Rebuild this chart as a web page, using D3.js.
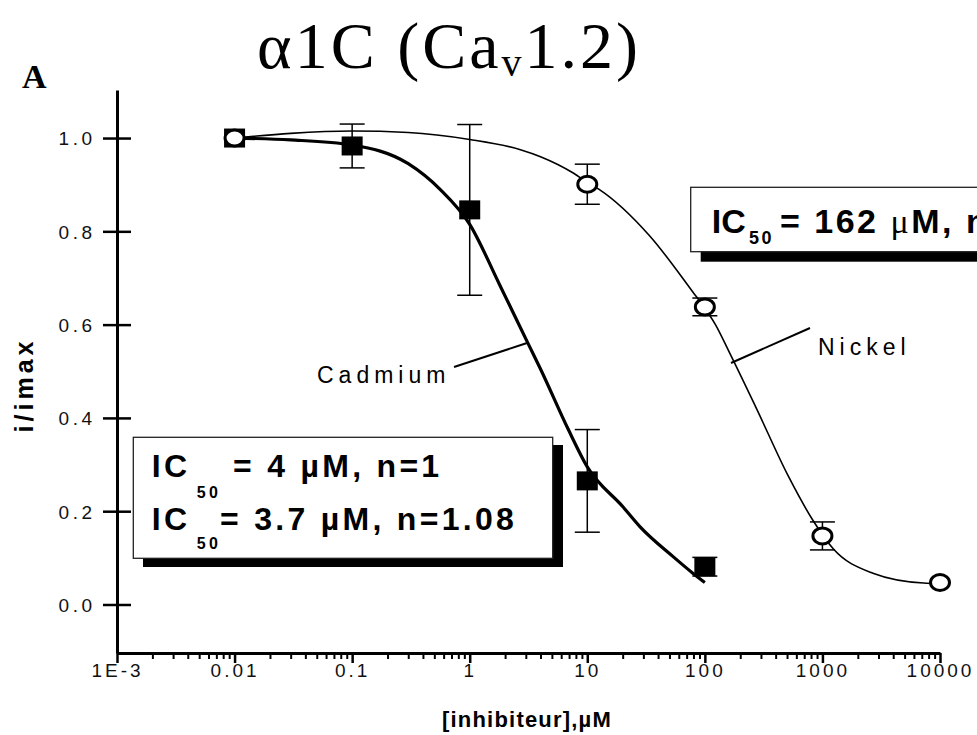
<!DOCTYPE html>
<html><head><meta charset="utf-8">
<script src="https://cdn.jsdelivr.net/npm/d3@7"></script>
<style>
body{margin:0;background:#fff;}
svg{display:block;}
</style></head><body>
<svg id="chart" width="977" height="735"></svg>
<script>
// ---- data ----
const xTickValues = [0.001, 0.01, 0.1, 1, 10, 100, 1000, 10000];
const xTickLabels = ["1E-3", "0.01", "0.1", "1", "10", "100", "1000", "10000"];
const yTickValues = [0, 0.2, 0.4, 0.6, 0.8, 1.0];
const yTickLabels = ["0.0", "0.2", "0.4", "0.6", "0.8", "1.0"];

// Cadmium (filled squares)
const cdConc = [0.01, 0.1, 1, 10, 100];
const cdMean = [1.0, 0.983, 0.846, 0.265, 0.081];
const cdErr  = [0, 0.047, 0.183, 0.11, 0.02];

// Nickel (open circles)
const niConc = [0.01, 10, 100, 1000, 10000];
const niMean = [1.0, 0.901, 0.638, 0.147, 0.047];
const niErr  = [0, 0.043, 0.019, 0.03, 0];

// fitted curves
const cdFitConc = [0.01, 0.03, 0.1, 0.3, 0.56, 1, 1.8, 3.2, 4, 6.9, 10, 20, 28, 54, 79, 100];
const cdFitVal  = [1.0, 0.996, 0.985, 0.945, 0.89, 0.815, 0.685, 0.555, 0.505, 0.375, 0.295, 0.21, 0.167, 0.102, 0.067, 0.047];
const niFitConc = [0.01, 0.03, 0.1, 0.3, 1, 2.7, 4, 7.6, 10, 12.6, 34, 79, 100, 123, 162, 275, 513, 832, 1230, 2690, 7240, 10000];
const niFitVal  = [1.0, 1.01, 1.015, 1.012, 0.997, 0.975, 0.96, 0.925, 0.905, 0.89, 0.79, 0.67, 0.635, 0.6, 0.54, 0.42, 0.275, 0.18, 0.12, 0.067, 0.046, 0.045];

// ---- drawing ----
const SANS = "'Liberation Sans', Arial, Helvetica, sans-serif";
const SERIF = "'Liberation Serif', 'Times New Roman', serif";
const svg = d3.select("#chart");

const x = d3.scaleLog().domain([1e-3, 1e4]).range([117, 940]);
const y = d3.scaleLinear().domain([-0.104, 1.103]).range([653, 90]);

// title
const title = svg.append("text").attr("x", 449).attr("y", 68)
  .attr("text-anchor", "middle").attr("font-family", SERIF).attr("font-size", 66)
  .attr("letter-spacing", 3);
title.append("tspan").text("α1C (Ca");
title.append("tspan").attr("font-size", 40).attr("dy", 8).text("v");
title.append("tspan").attr("dy", -8).text("1.2)");

svg.append("text").attr("x", 22).attr("y", 88).attr("font-family", SERIF)
  .attr("font-weight", "bold").attr("font-size", 34).text("A");

// Y axis
const gy = svg.append("g").attr("transform", "translate(117,0)")
  .call(d3.axisLeft(y).tickValues(yTickValues)
    .tickFormat((d, i) => yTickLabels[i]).tickSize(14).tickSizeOuter(0));
gy.select(".domain").attr("stroke-width", 3);
gy.selectAll(".tick line").attr("x1", 14).attr("stroke-width", 2.5);
gy.selectAll(".tick text").attr("x", -21.5).attr("dy", "0.36em")
  .attr("font-family", SANS).attr("font-size", 19).attr("letter-spacing", 3.5).attr("fill", "#111");

// X axis minor ticks
const minor = x.ticks().filter(v => Math.abs(Math.log10(v) - Math.round(Math.log10(v))) > 1e-6);
const gxm = svg.append("g").attr("transform", "translate(0,653)")
  .call(d3.axisBottom(x).tickValues(minor).tickFormat("").tickSize(6).tickSizeOuter(0));
gxm.select(".domain").remove();
gxm.selectAll(".tick line").attr("stroke-width", 2);

// X axis major
const gx = svg.append("g").attr("transform", "translate(0,653)")
  .call(d3.axisBottom(x).tickValues(xTickValues)
    .tickFormat((d, i) => xTickLabels[i]).tickSize(10).tickSizeOuter(0));
gx.select(".domain").attr("stroke-width", 3);
gx.selectAll(".tick line").attr("stroke-width", 2.5);
gx.selectAll(".tick text").attr("y", 11).attr("font-family", SANS)
  .attr("font-size", 19).attr("letter-spacing", 3).attr("fill", "#111");

// axis titles
svg.append("text").attr("transform", "translate(33,385) rotate(-90)")
  .attr("text-anchor", "middle").attr("font-family", SANS).attr("font-weight", "bold")
  .attr("font-size", 25).attr("letter-spacing", 4).text("i/imax");
svg.append("text").attr("x", 527).attr("y", 727).attr("text-anchor", "middle")
  .attr("font-family", SANS).attr("font-weight", "bold").attr("font-size", 22)
  .attr("letter-spacing", 1.2).text("[inhibiteur],µM");

// curves
const line = d3.line().x(d => x(d[0])).y(d => y(d[1])).curve(d3.curveMonotoneX);
svg.append("path").datum(cdFitConc.map((c, i) => [c, cdFitVal[i]]))
  .attr("d", line).attr("fill", "none").attr("stroke", "#000").attr("stroke-width", 3.2);
svg.append("path").datum(niFitConc.map((c, i) => [c, niFitVal[i]]))
  .attr("d", line).attr("fill", "none").attr("stroke", "#000").attr("stroke-width", 1.6);

// error bars
function errBars(conc, mean, err) {
  const g = svg.append("g").attr("stroke", "#000").attr("stroke-width", 1.5);
  conc.forEach((c, i) => {
    if (!err[i]) return;
    const cx = x(c), y1 = y(mean[i] + err[i]), y2 = y(mean[i] - err[i]);
    g.append("line").attr("x1", cx).attr("x2", cx).attr("y1", y1).attr("y2", y2);
    g.append("line").attr("x1", cx - 12.5).attr("x2", cx + 12.5).attr("y1", y1).attr("y2", y1);
    g.append("line").attr("x1", cx - 12.5).attr("x2", cx + 12.5).attr("y1", y2).attr("y2", y2);
  });
}
errBars(cdConc, cdMean, cdErr);
errBars(niConc, niMean, niErr);

// squares
svg.append("g").selectAll("rect").data(cdConc).join("rect")
  .attr("x", d => x(d) - 10.5).attr("y", (d, i) => y(cdMean[i]) - 9.5)
  .attr("width", 21).attr("height", 19).attr("fill", "#000");
// circles
svg.append("g").selectAll("ellipse").data(niConc).join("ellipse")
  .attr("cx", d => x(d)).attr("cy", (d, i) => y(niMean[i]))
  .attr("rx", 9.5).attr("ry", 8).attr("fill", "#fff").attr("stroke", "#000").attr("stroke-width", 3);

// series labels with leaders
svg.append("text").attr("x", 317).attr("y", 383).attr("font-family", SANS)
  .attr("font-size", 23).attr("letter-spacing", 5).text("Cadmium");
svg.append("line").attr("x1", 454).attr("y1", 367).attr("x2", 527).attr("y2", 343)
  .attr("stroke", "#000").attr("stroke-width", 2);
svg.append("text").attr("x", 818).attr("y", 355).attr("font-family", SANS)
  .attr("font-size", 23).attr("letter-spacing", 5).text("Nickel");
svg.append("line").attr("x1", 810).attr("y1", 328).attr("x2", 731).attr("y2", 363)
  .attr("stroke", "#000").attr("stroke-width", 2);

// left IC50 box
svg.append("rect").attr("x", 143).attr("y", 445).attr("width", 420).attr("height", 122).attr("fill", "#000");
svg.append("rect").attr("x", 133.3).attr("y", 437.3).attr("width", 419.4).attr("height", 121)
  .attr("fill", "#fff").attr("stroke", "#222").attr("stroke-width", 1.3);
function icLine(xI, xSub, xRest, base, subDy, size, subSize, rest, muSerif, ls, icLs) {
  const t = svg.append("text").attr("font-family", SANS).attr("font-weight", "bold")
    .attr("font-size", size).attr("letter-spacing", ls);
  t.append("tspan").attr("x", xI).attr("y", base).attr("letter-spacing", icLs).text("IC");
  t.append("tspan").attr("x", xSub).attr("y", base + subDy).attr("font-size", subSize).text("50");
  if (muSerif) {
    const parts = rest.split("µ");
    t.append("tspan").attr("x", xRest).attr("y", base).text(parts[0]);
    t.append("tspan").attr("font-family", SERIF).attr("font-weight", "normal").text("μ");
    t.append("tspan").text(parts[1]);
  } else {
    t.append("tspan").attr("x", xRest).attr("y", base).text(rest);
  }
}
icLine(151.7, 196.7, 233, 476.7, 21, 32, 16, "= 4 µM, n=1", false, 3.3, 3.3);
icLine(151.7, 196.7, 220, 530, 18.5, 32, 16, "= 3.7 µM, n=1.08", false, 3.3, 3.3);

// right IC50 box (runs past the edge)
svg.append("rect").attr("x", 700.7).attr("y", 197.3).attr("width", 400).attr("height", 64.4).attr("fill", "#000");
svg.append("rect").attr("x", 690.7).attr("y", 187.3).attr("width", 400).attr("height", 64.4)
  .attr("fill", "#fff").attr("stroke", "#222").attr("stroke-width", 1.3);
icLine(711.7, 749, 780, 233.3, 10.5, 34, 18, "= 162 µM, n=1", true, 2.5, 0);
</script>
</body></html>
